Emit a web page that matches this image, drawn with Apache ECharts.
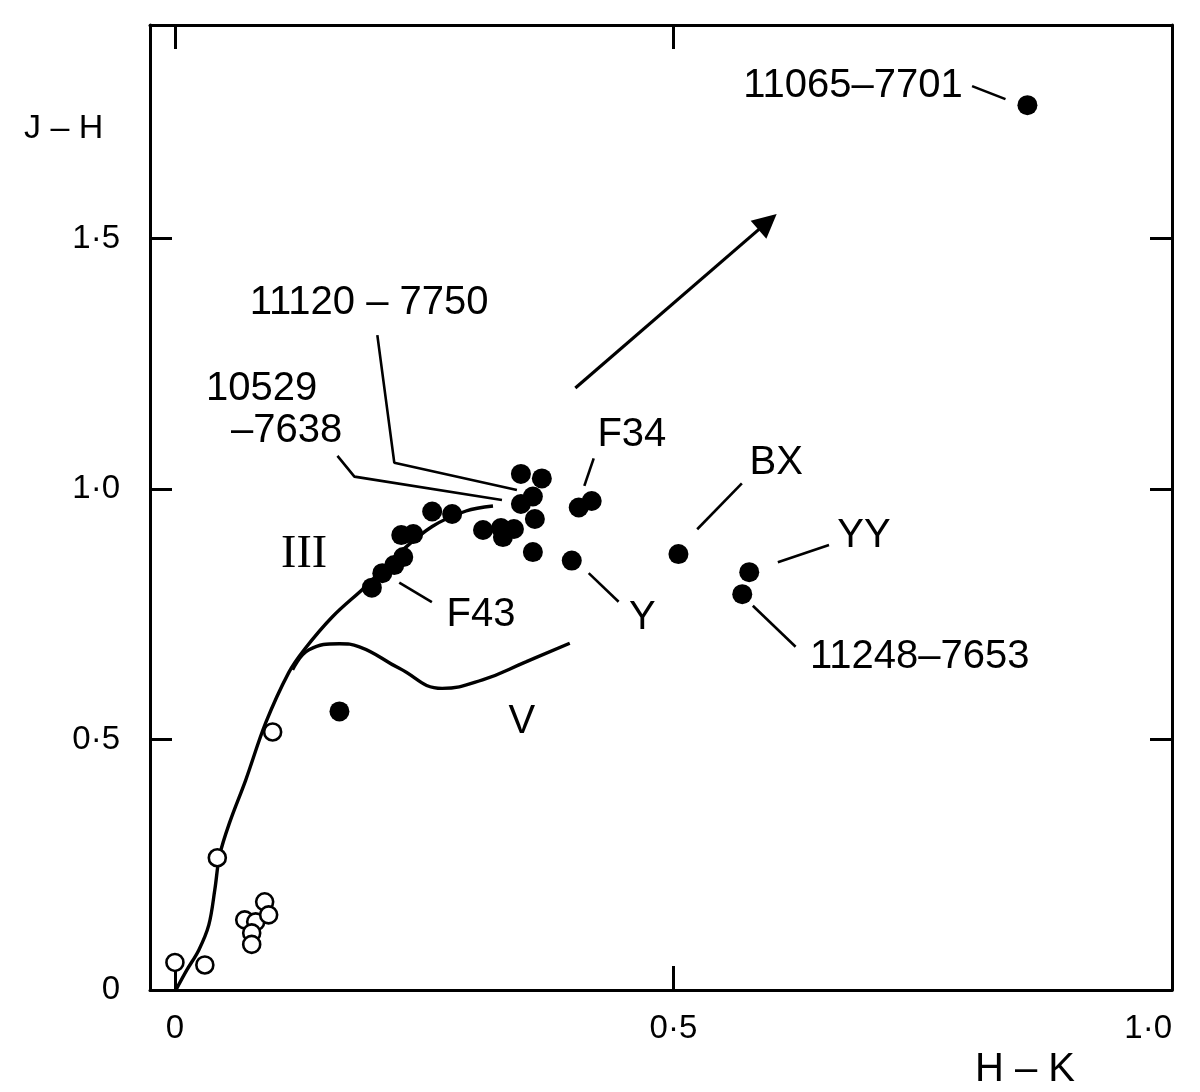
<!DOCTYPE html>
<html>
<head>
<meta charset="utf-8">
<script src="https://cdn.jsdelivr.net/npm/echarts@6/dist/echarts.min.js"></script>
<style>
html,body{margin:0;padding:0;background:#fff;}
#chart{width:1200px;height:1092px;}
</style>
</head>
<body>
<div id="chart"></div>
<script>
// ---- tick labels ----
const xTickValues = [0, 0.5, 1.0];
const xTickLabels = ['0', '0·5', '1·0'];
const yTickValues = [0, 0.5, 1.0, 1.5];
const yTickLabels = ['0', '0·5', '1·0', '1·5'];

// ---- open circles (H-K, J-H) ----
const openHK = [0.000, 0.030, 0.0425, 0.098, 0.070, 0.081, 0.077, 0.077, 0.090, 0.094];
const openJH = [0.055, 0.050, 0.264, 0.515, 0.140, 0.136, 0.114, 0.091, 0.176, 0.150];

// ---- filled circles (H-K, J-H) ----
const filledHK = [0.1975, 0.208, 0.220, 0.229, 0.227, 0.239, 0.258, 0.278, 0.309, 0.327, 0.340, 0.329,
                  0.347, 0.368, 0.359, 0.347, 0.361, 0.359, 0.398, 0.405, 0.418, 0.505, 0.576, 0.569,
                  0.855, 0.165];
const filledJH = [0.803, 0.832, 0.848, 0.864, 0.908, 0.910, 0.955, 0.950, 0.918, 0.922, 0.920, 0.904,
                  1.030, 1.021, 0.985, 0.970, 0.940, 0.874, 0.857, 0.963, 0.976, 0.870, 0.834, 0.790,
                  1.766, 0.556];

// ---- giant branch (III) curve ----
const giantHK = [0.001, 0.012, 0.024, 0.034, 0.040, 0.045, 0.055, 0.071, 0.091, 0.114, 0.130, 0.158, 0.191, 0.225, 0.258, 0.292, 0.319];
const giantJH = [0.000, 0.040, 0.080, 0.130, 0.200, 0.270, 0.335, 0.419, 0.533, 0.633, 0.680, 0.745, 0.805, 0.872, 0.925, 0.956, 0.966];

// ---- dwarf (V) curve ----
const dwarfHK = [0.118, 0.1345, 0.165, 0.185, 0.225, 0.268, 0.3085, 0.352, 0.396];
const dwarfJH = [0.639, 0.679, 0.691, 0.685, 0.642, 0.602, 0.619, 0.655, 0.692];

// ---- reddening arrow ----
const arrowStart = [0.4016, 1.2016];
const arrowEnd = [0.5944, 1.533];

// ---- labels ----
const labelTexts = ['11065–7701', '11120 – 7750', '10529', '–7638', 'F34', 'BX', 'YY', 'Y', '11248–7653', 'F43', 'V'];
const labelHK   = [0.680, 0.1948, 0.087, 0.112, 0.4583, 0.603, 0.691, 0.4689, 0.747, 0.307, 0.348];
const labelJH   = [1.805, 1.372, 1.1996, 1.1148, 1.108, 1.051, 0.906, 0.742, 0.665, 0.7485, 0.535];
const romanText = ['III'];
const romanHK = [0.1295];
const romanJH = [0.868];

// ---- leader lines ----
const leaders = [
  [[0.7995, 1.804], [0.833, 1.778]],
  [[0.203, 1.307], [0.220, 1.0525], [0.343, 0.998]],
  [[0.163, 1.066], [0.180, 1.0246], [0.328, 0.978]],
  [[0.420, 1.061], [0.4106, 1.006]],
  [[0.5686, 1.011], [0.5238, 0.9196]],
  [[0.656, 0.888], [0.6047, 0.8537]],
  [[0.415, 0.832], [0.445, 0.775]],
  [[0.5796, 0.767], [0.6225, 0.685]],
  [[0.225, 0.813], [0.2577, 0.774]]
];

const zip = (a, b) => a.map((v, i) => [v, b[i]]);
const INK = '#000';
const FONT = '"Liberation Sans", Arial, sans-serif';

const chart = echarts.init(document.getElementById('chart'), null, {renderer: 'canvas'});

const xFmt = v => { const i = xTickValues.findIndex(t => Math.abs(t - v) < 1e-6); return i >= 0 ? xTickLabels[i] : ''; };
const yFmt = v => { const i = yTickValues.findIndex(t => Math.abs(t - v) < 1e-6); return i >= 0 ? yTickLabels[i] : ''; };

const leaderSeries = leaders.map(pts => ({
  type: 'line', xAxisIndex: 0, yAxisIndex: 0, data: pts, symbol: 'none', silent: true,
  lineStyle: {color: INK, width: 2.6, opacity: 1}, z: 3
}));

const option = {
  animation: false,
  backgroundColor: '#fff',
  grid: {left: 150, right: 28, top: 25, bottom: 102, containLabel: false},
  xAxis: [
    {
      type: 'value', position: 'bottom', min: -0.025, max: 1.0,
      axisLine: {show: true, onZero: false, lineStyle: {color: INK, width: 3}},
      axisTick: {show: true, inside: true, length: 24, customValues: [0, 0.5], lineStyle: {color: INK, width: 3}},
      axisLabel: {show: true, customValues: xTickValues, formatter: xFmt, margin: 22, alignMaxLabel: 'right',
                  color: INK, fontFamily: FONT, fontSize: 33},
      splitLine: {show: false}
    },
    {
      type: 'value', position: 'top', min: -0.025, max: 1.0,
      axisLine: {show: true, onZero: false, lineStyle: {color: INK, width: 3}},
      axisTick: {show: true, inside: true, length: 24, customValues: [0, 0.5], lineStyle: {color: INK, width: 3}},
      axisLabel: {show: false},
      splitLine: {show: false}
    }
  ],
  yAxis: [
    {
      type: 'value', position: 'left', min: 0, max: 1.926,
      axisLine: {show: true, onZero: false, lineStyle: {color: INK, width: 3}},
      axisTick: {show: true, inside: true, length: 22, customValues: [0.5, 1.0, 1.5], lineStyle: {color: INK, width: 3}},
      axisLabel: {show: true, customValues: yTickValues, formatter: yFmt, margin: 30,
                  color: INK, fontFamily: FONT, fontSize: 33},
      splitLine: {show: false}
    },
    {
      type: 'value', position: 'right', min: 0, max: 1.926,
      axisLine: {show: true, onZero: false, lineStyle: {color: INK, width: 3}},
      axisTick: {show: true, inside: true, length: 22, customValues: [0.5, 1.0, 1.5], lineStyle: {color: INK, width: 3}},
      axisLabel: {show: false},
      splitLine: {show: false}
    }
  ],
  graphic: [
    {type: 'text', left: 24, top: 112, style: {text: 'J – H', fill: INK, font: '34px ' + FONT}},
    {type: 'text', left: 975, top: 1050, style: {text: 'H – K', fill: INK, font: '40px ' + FONT}}
  ],
  series: [
    {
      type: 'line', name: 'III', data: zip(giantHK, giantJH), smooth: 0.35, symbol: 'none', silent: true,
      lineStyle: {color: INK, width: 3.4, opacity: 1}, z: 2
    },
    {
      type: 'line', name: 'V', data: zip(dwarfHK, dwarfJH), smooth: 0.45, symbol: 'none', silent: true,
      lineStyle: {color: INK, width: 3.4, opacity: 1}, z: 2
    },
    {
      type: 'lines', name: 'reddening', coordinateSystem: 'cartesian2d', silent: true,
      symbol: ['none', 'triangle'], symbolSize: 24,
      lineStyle: {color: INK, width: 3.2, opacity: 1, curveness: 0},
      itemStyle: {color: INK},
      data: [{coords: [arrowStart, arrowEnd]}], z: 3
    },
    ...leaderSeries,
    {
      type: 'scatter', name: 'open', data: zip(openHK, openJH), symbol: 'circle', symbolSize: 17, silent: true,
      itemStyle: {color: '#fff', borderColor: INK, borderWidth: 2.6, opacity: 1}, z: 5
    },
    {
      type: 'scatter', name: 'filled', data: zip(filledHK, filledJH), symbol: 'circle', symbolSize: 20, silent: true,
      itemStyle: {color: INK, borderWidth: 0, opacity: 1}, z: 6
    },
    {
      type: 'scatter', name: 'labels', silent: true, symbol: 'circle', symbolSize: 1,
      itemStyle: {color: 'rgba(0,0,0,0)', opacity: 1}, z: 7,
      data: labelTexts.map((t, i) => ({value: [labelHK[i], labelJH[i]], name: t})),
      label: {show: true, position: 'inside', formatter: p => p.name, color: INK, opacity: 1,
              fontFamily: FONT, fontSize: 40, align: 'center', verticalAlign: 'middle'}
    },
    {
      type: 'scatter', name: 'roman', silent: true, symbol: 'circle', symbolSize: 1,
      itemStyle: {color: 'rgba(0,0,0,0)', opacity: 1}, z: 7,
      data: romanText.map((t, i) => ({value: [romanHK[i], romanJH[i]], name: t})),
      label: {show: true, position: 'inside', formatter: p => p.name, color: INK, opacity: 1,
              fontFamily: '"Liberation Serif", serif', fontSize: 46, align: 'center', verticalAlign: 'middle'}
    }
  ]
};
chart.setOption(option);
</script>
</body>
</html>
